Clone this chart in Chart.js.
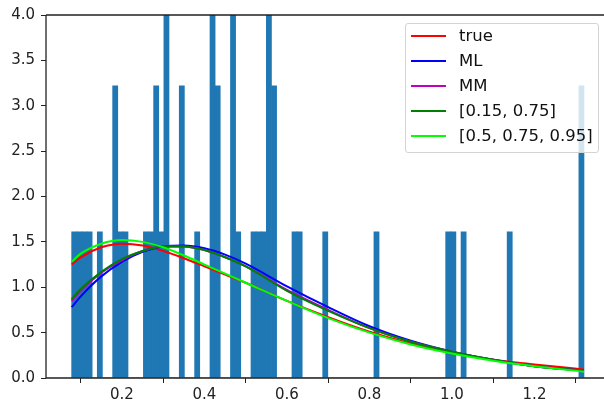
<!DOCTYPE html>
<html>
<head>
<meta charset="utf-8">
<script src="https://cdn.jsdelivr.net/npm/chart.js@4.4.0/dist/chart.umd.min.js"></script>
<style>
  html, body { margin: 0; padding: 0; background: #fff; }
  #wrap { position: relative; width: 604px; height: 402px; overflow: hidden; }
  #legend {
    position: absolute; left: 405px; top: 23px; width: 192px; height: 128px;
    background: rgba(255, 255, 255, 0.8); border: 1px solid #d3d3d3; border-radius: 3px;
    font-family: "DejaVu Sans", sans-serif; font-size: 15px; color: #111;
  }
  .item { position: absolute; left: 5px; height: 20px; line-height: 20px; white-space: nowrap; }
  .item span.line { position: absolute; left: 0; top: 9px; width: 35px; height: 2px; }
  .item span.label { position: absolute; left: 48px; top: 0; transform: scaleX(1.1); transform-origin: left center; }
</style>
</head>
<body>
<div id="wrap">
  <canvas id="myChart" width="604" height="402"></canvas>
  <div id="legend"></div>
</div>
<script>
// histogram, 100 bins (density)
const binStart = 0.078;
const binWidth = 0.01242;
const sampleCount = 50;
const binCounts = [
  1, 1, 1, 1, 0, 1, 0, 0, 2, 1,
  1, 0, 0, 0, 1, 1, 2, 1, 4, 0,
  0, 2, 0, 0, 1, 0, 0, 3, 2, 0,
  0, 4, 1, 0, 0, 1, 1, 1, 4, 2,
  0, 0, 0, 1, 1, 0, 0, 0, 0, 1,
  0, 0, 0, 0, 0, 0, 0, 0, 0, 1,
  0, 0, 0, 0, 0, 0, 0, 0, 0, 0,
  0, 0, 0, 1, 1, 0, 1, 0, 0, 0,
  0, 0, 0, 0, 0, 1, 0, 0, 0, 0,
  0, 0, 0, 0, 0, 0, 0, 0, 0, 2
];

// fitted densities
const curveX = [0.078, 0.1, 0.15, 0.2, 0.25, 0.3, 0.35, 0.4, 0.45, 0.5, 0.6, 0.7, 0.8, 0.9, 1.0, 1.1, 1.2, 1.32];
const trueFit  = [1.25, 1.33, 1.44, 1.48, 1.46, 1.40, 1.32, 1.23, 1.14, 1.05, 0.85, 0.67, 0.51, 0.38, 0.28, 0.20, 0.15, 0.095];
const mlFit    = [0.78, 0.90, 1.12, 1.28, 1.39, 1.45, 1.46, 1.43, 1.36, 1.26, 1.01, 0.78, 0.57, 0.41, 0.29, 0.20, 0.13, 0.08];
const mmFit    = [0.85, 0.96, 1.16, 1.30, 1.40, 1.45, 1.45, 1.41, 1.33, 1.23, 0.97, 0.75, 0.55, 0.40, 0.29, 0.20, 0.13, 0.08];
const q2Fit    = [0.87, 0.98, 1.17, 1.31, 1.40, 1.45, 1.45, 1.41, 1.33, 1.23, 0.96, 0.74, 0.55, 0.40, 0.29, 0.20, 0.13, 0.08];
const q3Fit    = [1.28, 1.37, 1.48, 1.52, 1.50, 1.44, 1.35, 1.25, 1.15, 1.05, 0.85, 0.66, 0.50, 0.37, 0.27, 0.19, 0.13, 0.07];

const seriesNames = ["true", "ML", "MM", "[0.15, 0.75]", "[0.5, 0.75, 0.95]"];
const seriesColors = ["#ff0000", "#0000ff", "#bf00bf", "#008000", "#00ff00"];
const seriesValues = [trueFit, mlFit, mmFit, q2Fit, q3Fit];

const yTicks = [0, 0.5, 1, 1.5, 2, 2.5, 3, 3.5, 4];

const histData = binCounts.map((c, i) => ({
  x: binStart + (i + 0.5) * binWidth,
  y: c / (sampleCount * binWidth)
}));

const lineSets = seriesValues.map((vals, k) => ({
  type: 'line',
  label: seriesNames[k],
  data: vals.map((v, i) => ({ x: curveX[i], y: v })),
  borderColor: seriesColors[k],
  backgroundColor: seriesColors[k],
  borderWidth: 2,
  pointRadius: 0,
  cubicInterpolationMode: 'monotone',
  fill: false,
  order: 5 - k
}));

// matplotlib-like spines drawn over the data
const spines = {
  id: 'spines',
  afterDatasetsDraw(chart) {
    const { ctx, chartArea } = chart;
    ctx.save();
    ctx.strokeStyle = '#222';
    ctx.lineWidth = 1.3;
    ctx.beginPath();
    ctx.moveTo(chartArea.left, chartArea.top);
    ctx.lineTo(chartArea.right, chartArea.top);
    ctx.moveTo(chartArea.left, chartArea.top);
    ctx.lineTo(chartArea.left, chartArea.bottom);
    ctx.lineTo(chartArea.right, chartArea.bottom);
    ctx.stroke();
    ctx.restore();
  }
};

const ctx = document.getElementById('myChart').getContext('2d');
const chart = new Chart(ctx, {
  type: 'bar',
  data: {
    datasets: [
      {
        label: 'hist',
        data: histData,
        backgroundColor: '#1f77b4',
        borderWidth: 0,
        barPercentage: 1.0,
        categoryPercentage: 1.0,
        order: 10
      },
      ...lineSets
    ]
  },
  options: {
    responsive: false,
    animation: false,
    layout: { padding: { top: 15, right: 0, left: 0, bottom: 0 } },
    plugins: {
      legend: { display: false },
      tooltip: { enabled: false }
    },
    scales: {
      x: {
        type: 'linear',
        offset: false,
        min: 0.0158,
        max: 1.3685,
        border: { display: false },
        grid: { drawOnChartArea: false, drawTicks: true, tickLength: 5, color: '#222' },
        ticks: {
          stepSize: 0.2,
          includeBounds: false,
          padding: 3,
          color: '#222',
          font: { family: 'DejaVu Sans', size: 15 },
          callback: v => v.toFixed(1)
        },
        afterFit: s => { s.height = 24; }
      },
      y: {
        min: 0,
        max: 4,
        border: { display: false },
        grid: { drawOnChartArea: false, drawTicks: true, tickLength: 5, color: '#222' },
        afterBuildTicks: s => { s.ticks = yTicks.map(v => ({ value: v })); },
        ticks: {
          padding: 6,
          color: '#222',
          font: { family: 'DejaVu Sans', size: 15 },
          callback: v => v.toFixed(1)
        },
        afterFit: s => { s.width = 46; }
      }
    }
  },
  plugins: [spines]
});

// legend inside the axes, upper right
const legend = document.getElementById('legend');
seriesNames.forEach((name, k) => {
  const item = document.createElement('div');
  item.className = 'item';
  item.style.top = (2 + k * 25) + 'px';
  item.innerHTML = '<span class="line" style="background:' + seriesColors[k] + '"></span>' +
    '<span class="label">' + name + '</span>';
  legend.appendChild(item);
});
</script>
</body>
</html>
